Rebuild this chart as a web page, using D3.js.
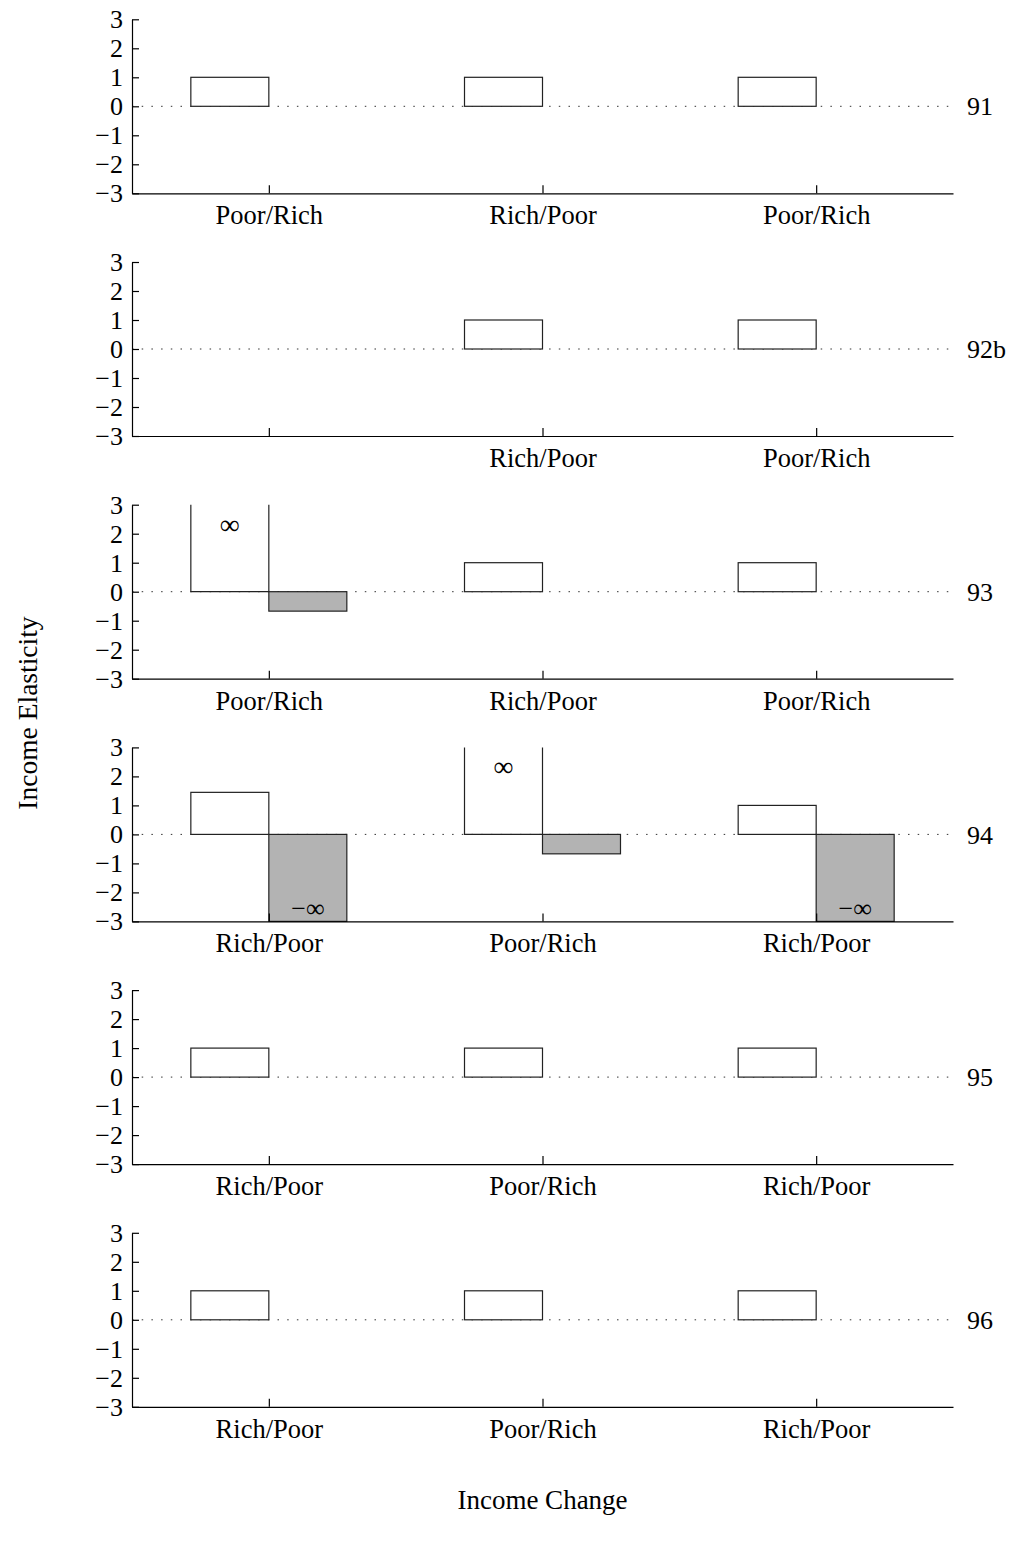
<!DOCTYPE html>
<html>
<head>
<meta charset="utf-8">
<script src="https://cdn.jsdelivr.net/npm/d3@7"></script>
<style>
	body { margin: 0; background: #fff; }
	svg text { font-family: "Liberation Serif", "Times New Roman", serif; fill: #000; }
</style>
</head>
<body>
<svg id="chart" width="1014" height="1544"></svg>
<script>

// panel names, shown on the right
var years = ['91', '92b', '93', '94', '95', '96'];

// category labels under each panel
var catLabels = [
	['Poor/Rich', 'Rich/Poor', 'Poor/Rich'],
	['', 'Rich/Poor', 'Poor/Rich'],
	['Poor/Rich', 'Rich/Poor', 'Poor/Rich'],
	['Rich/Poor', 'Poor/Rich', 'Rich/Poor'],
	['Rich/Poor', 'Poor/Rich', 'Rich/Poor'],
	['Rich/Poor', 'Poor/Rich', 'Rich/Poor']
];

// first series (white), null = no bar
var whiteVals = [
	[1, 1, 1],
	[null, 1, 1],
	[Infinity, 1, 1],
	[1.45, Infinity, 1],
	[1, 1, 1],
	[1, 1, 1]
];

// second series (grey), null = no bar
var grayVals = [
	[null, null, null],
	[null, null, null],
	[-0.67, null, null],
	[-Infinity, -0.67, -Infinity],
	[null, null, null],
	[null, null, null]
];

var yTicks = [-3, -2, -1, 0, 1, 2, 3];

var CHART = CHART || {};

CHART.panels = {
	init: function () {

		var svg = d3.select('#chart');

		var left = 132, right = 953;
		var top0 = 19.3, step = 242.7, h = 174;
		var barW = 0.285;
		var fs = '26px';

		var x = d3.scaleLinear().domain([0.5, 3.5]).range([left, right]);

		years.forEach(function (yr, p) {

			var top = top0 + p * step;
			var y = d3.scaleLinear().domain([-3, 3]).range([top + h, top]);
			var g = svg.append('g');

			var clip = function (v) { return Math.max(-3, Math.min(3, v)); };

			//zero line
			g.append('line')
				.attr('x1', left).attr('x2', right)
				.attr('y1', y(0)).attr('y2', y(0))
				.style('stroke', '#333')
				.style('stroke-width', 1)
				.style('stroke-dasharray', '1.5,8.2');

			//white bars
			whiteVals[p].forEach(function (v, i) {
				if (v === null) return;
				var x0 = x(i + 1 - barW), x1 = x(i + 1);
				var yv = y(clip(v));
				if (isFinite(v)) {
					g.append('rect')
						.attr('x', x0).attr('y', Math.min(yv, y(0)))
						.attr('width', x1 - x0).attr('height', Math.abs(y(0) - yv))
						.style('fill', '#fff').style('stroke', '#222').style('stroke-width', 1.2);
				} else {
					g.append('path')
						.attr('d', 'M' + x0 + ',' + yv + 'L' + x0 + ',' + y(0) + 'L' + x1 + ',' + y(0) + 'L' + x1 + ',' + yv)
						.style('fill', 'none').style('stroke', '#222').style('stroke-width', 1.2);
					g.append('text')
						.attr('x', (x0 + x1) / 2).attr('y', yv + 19)
						.attr('dy', '0.35em')
						.attr('text-anchor', 'middle')
						.style('font-size', '28px')
						.text(v > 0 ? '\u221e' : '\u2212\u221e');
				}
			});

			//grey bars
			grayVals[p].forEach(function (v, i) {
				if (v === null) return;
				var x0 = x(i + 1), x1 = x(i + 1 + barW);
				var yv = y(clip(v));
				g.append('rect')
					.attr('x', x0).attr('y', Math.min(yv, y(0)))
					.attr('width', x1 - x0).attr('height', Math.abs(y(0) - yv))
					.style('fill', '#b3b3b3').style('stroke', '#222').style('stroke-width', 1.2);
				if (!isFinite(v)) {
					g.append('text')
						.attr('x', (x0 + x1) / 2).attr('y', yv - 14)
						.attr('dy', '0.35em')
						.attr('text-anchor', 'middle')
						.style('font-size', '26px')
						.text(v > 0 ? '\u221e' : '\u2212\u221e');
				}
			});

			//y axis
			var yAxis = d3.axisLeft(y)
				.tickValues(yTicks)
				.tickSizeInner(-7)
				.tickSizeOuter(0)
				.tickPadding(9)
				.tickFormat(function (d) { return d < 0 ? '\u2212' + Math.abs(d) : d; });

			var ya = g.append('g')
				.attr('transform', 'translate(' + left + ',0)')
				.call(yAxis);
			ya.selectAll('text').style('font-size', fs);

			//x axis
			var xAxis = d3.axisBottom(x)
				.tickValues([1, 2, 3])
				.tickSizeInner(-8)
				.tickSizeOuter(0)
				.tickPadding(12)
				.tickFormat(function (d) { return catLabels[p][d - 1]; });

			var xa = g.append('g')
				.attr('transform', 'translate(0,' + (top + h) + ')')
				.call(xAxis);
			xa.selectAll('text').style('font-size', '26.5px');

			svg.selectAll('.domain, .tick line')
				.style('stroke', '#000')
				.style('stroke-width', 1.2);
			svg.selectAll('.tick text').style('fill', '#000').style('font-family', '"Liberation Serif", serif');

			//panel name
			g.append('text')
				.attr('x', 967).attr('y', y(0))
				.attr('dy', '0.35em')
				.style('font-size', fs)
				.text(yr);
		});

		//axis titles
		svg.append('text')
			.attr('transform', 'translate(27,' + (top0 + (5 * step + h) / 2) + ') rotate(-90)')
			.attr('dy', '0.35em')
			.attr('text-anchor', 'middle')
			.style('font-size', '27.5px')
			.text('Income Elasticity');

		svg.append('text')
			.attr('x', (left + right) / 2).attr('y', 1500)
			.attr('dy', '0.35em')
			.attr('text-anchor', 'middle')
			.style('font-size', '27px')
			.text('Income Change');
	}
};

CHART.panels.init();

</script>
</body>
</html>
